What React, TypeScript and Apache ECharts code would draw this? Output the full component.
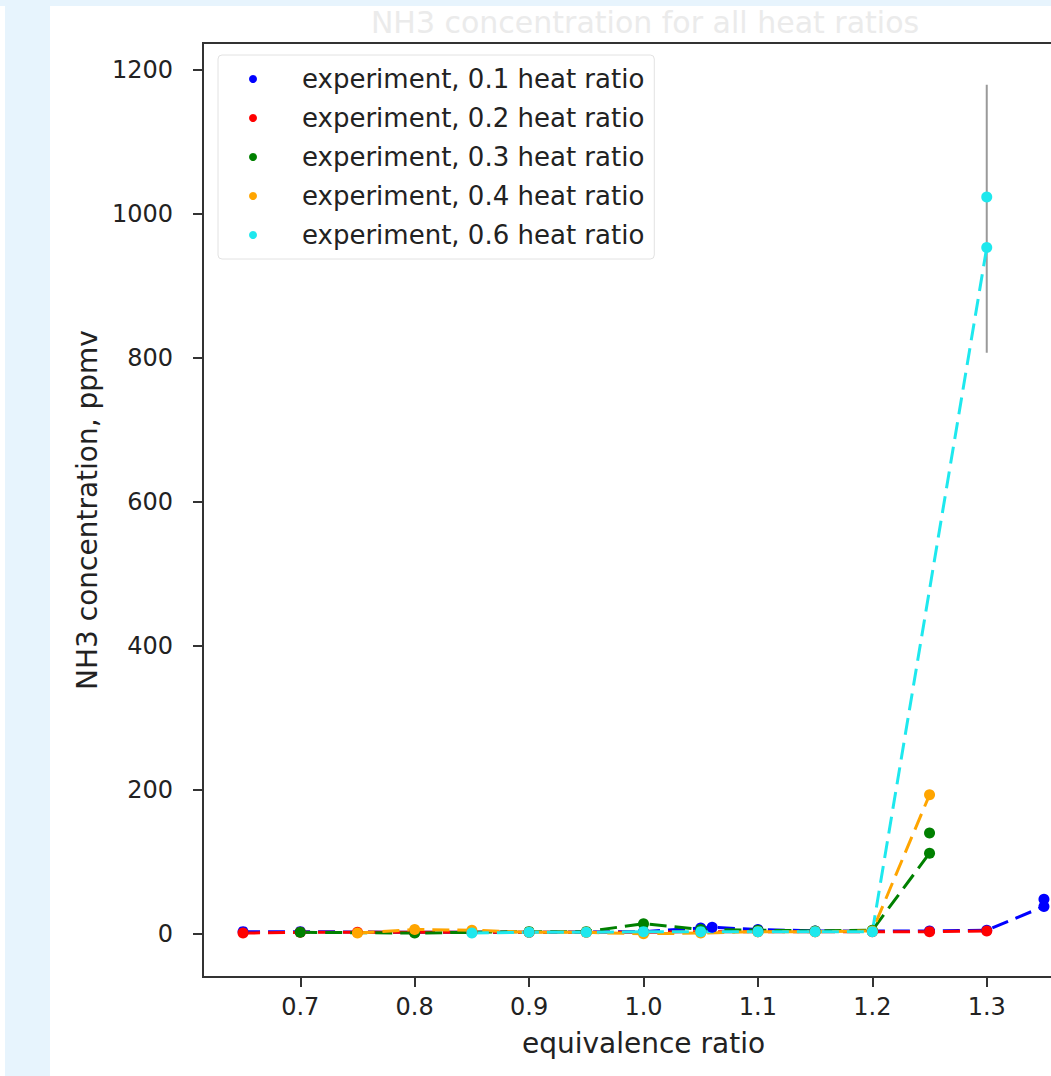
import React, { useEffect, useRef } from "react";
import * as echarts from "echarts";

const chartTitle = "NH3 concentration for all heat ratios";
const xAxisName = "equivalence ratio";
const yAxisName = "NH3 concentration, ppmv";
const xTicks = [0.7, 0.8, 0.9, 1.0, 1.1, 1.2, 1.3];
const yTicks = [0, 200, 400, 600, 800, 1000, 1200];

const seriesNames = [
  "experiment, 0.1 heat ratio",
  "experiment, 0.2 heat ratio",
  "experiment, 0.3 heat ratio",
  "experiment, 0.4 heat ratio",
  "experiment, 0.6 heat ratio",
];
const seriesColors = ["#0000ff", "#ff0000", "#008000", "#ffa500", "#1ee8ee"];

// [equivalence ratio, ppmv]
const heat01: number[][] = [
  [0.65, 3], [0.7, 3], [0.8, 2], [0.9, 2], [1.0, 3], [1.05, 8], [1.06, 9],
  [1.1, 6], [1.15, 4], [1.2, 4], [1.25, 4], [1.3, 5], [1.35, 38],
];
const heat01Extra: number[][] = [[1.35, 48]];

const heat02: number[][] = [
  [0.65, 1], [0.7, 2], [0.75, 2], [0.8, 2], [0.85, 2], [0.9, 2], [0.95, 2],
  [1.0, 2], [1.05, 3], [1.1, 3], [1.15, 3], [1.2, 3], [1.25, 3], [1.3, 4],
];

const heat03: number[][] = [
  [0.7, 2], [0.8, 1], [0.9, 3], [0.95, 3], [1.0, 14], [1.05, 6], [1.1, 5],
  [1.15, 4], [1.2, 5], [1.25, 112],
];
const heat03Extra: number[][] = [[1.25, 140]];

const heat04: number[][] = [
  [0.75, 1], [0.8, 6], [0.85, 5], [0.9, 2], [0.95, 2], [1.0, 0], [1.05, 1],
  [1.1, 3], [1.15, 3], [1.2, 4], [1.25, 193],
];

const heat06: number[][] = [
  [0.85, 1], [0.9, 2], [0.95, 2], [1.0, 3], [1.05, 3], [1.1, 3], [1.15, 3],
  [1.2, 3], [1.3, 953],
];
const heat06Extra: number[][] = [[1.3, 1023]];

// error bar: [x, low, high]
const heat06ErrorBar = [1.3, 807, 1179];

const FONT = "DejaVu Sans";
const TEXT = "#222222";
const FRAME = "#333333";

export default function App() {
  const ref = useRef<HTMLDivElement>(null);

  useEffect(() => {
    document.body.style.margin = "0";
    document.body.style.overflow = "hidden";
    if (!ref.current) return;
    const chart = echarts.init(ref.current, undefined, { renderer: "svg" });

    const lineSeries = (name: string, color: string, data: number[][]) => ({
      type: "line",
      name,
      data,
      symbol: "circle",
      symbolSize: 11,
      showSymbol: true,
      itemStyle: { color },
      lineStyle: { color, width: 3, type: [17, 8] },
      silent: true,
    });
    const extraSeries = (name: string, color: string, data: number[][]) => ({
      type: "scatter",
      name,
      data,
      symbol: "circle",
      symbolSize: 11,
      itemStyle: { color, opacity: 1 },
      silent: true,
      z: 3,
    });

    const option: any = {
      animation: false,
      textStyle: { fontFamily: FONT },
      graphic: [
        {
          type: "text",
          x: 645,
          y: 22,
          silent: true,
          style: {
            text: chartTitle,
            fill: "#ebebeb",
            fontSize: 30,
            fontFamily: FONT,
            align: "center",
            verticalAlign: "middle",
          },
        },
      ],
      grid: {
        left: 203,
        top: 43,
        right: 16,
        bottom: 99,
        show: true,
        borderColor: FRAME,
        borderWidth: 2,
        backgroundColor: "transparent",
      },
      legend: {
        data: seriesNames,
        orient: "vertical",
        left: 218,
        top: 55,
        padding: [9, 10, 9, 31],
        itemWidth: 8,
        itemHeight: 8,
        itemGap: 9,
        icon: "circle",
        selectedMode: false,
        backgroundColor: "rgba(255,255,255,0.85)",
        borderColor: "#e2e2e2",
        borderWidth: 1,
        borderRadius: 4,
        textStyle: {
          fontSize: 26,
          lineHeight: 30,
          color: TEXT,
          fontFamily: FONT,
          padding: [0, 0, 0, 40],
        },
      },
      xAxis: {
        type: "value",
        min: 0.615,
        max: 1.385,
        name: xAxisName,
        nameLocation: "middle",
        nameGap: 52,
        nameTextStyle: { fontSize: 28, color: TEXT, fontFamily: FONT },
        axisLine: { show: true, onZero: false, lineStyle: { color: FRAME, width: 2 } },
        axisTick: {
          show: true,
          inside: false,
          length: 10,
          customValues: xTicks,
          lineStyle: { color: FRAME, width: 2 },
        },
        axisLabel: {
          customValues: xTicks,
          formatter: (v: number) => v.toFixed(1),
          fontSize: 24,
          color: TEXT,
          fontFamily: FONT,
          margin: 18,
        },
        splitLine: { show: false },
      },
      yAxis: {
        type: "value",
        min: -60,
        max: 1237,
        name: yAxisName,
        nameLocation: "middle",
        nameGap: 77,
        nameTextStyle: { fontSize: 28, color: TEXT, fontFamily: FONT },
        axisLine: { show: true, onZero: false, lineStyle: { color: FRAME, width: 2 } },
        axisTick: {
          show: true,
          inside: false,
          length: 10,
          customValues: yTicks,
          lineStyle: { color: FRAME, width: 2 },
        },
        axisLabel: {
          customValues: yTicks,
          formatter: (v: number) => String(Math.round(v)),
          fontSize: 24,
          color: TEXT,
          fontFamily: FONT,
          margin: 30,
        },
        splitLine: { show: false },
      },
      series: [
        {
          type: "line",
          name: "error bar",
          data: [
            [heat06ErrorBar[0], heat06ErrorBar[1]],
            [heat06ErrorBar[0], heat06ErrorBar[2]],
          ],
          symbol: "none",
          lineStyle: { color: "#9a9a9a", width: 2 },
          silent: true,
        },
        lineSeries(seriesNames[0], seriesColors[0], heat01),
        lineSeries(seriesNames[1], seriesColors[1], heat02),
        lineSeries(seriesNames[2], seriesColors[2], heat03),
        lineSeries(seriesNames[3], seriesColors[3], heat04),
        lineSeries(seriesNames[4], seriesColors[4], heat06),
        extraSeries(seriesNames[0], seriesColors[0], heat01Extra),
        extraSeries(seriesNames[2], seriesColors[2], heat03Extra),
        extraSeries(seriesNames[4], seriesColors[4], heat06Extra),
      ],
    };

    chart.setOption(option);
    return () => chart.dispose();
  }, []);

  return (
    <div
      style={{
        position: "relative",
        width: 1051,
        height: 1076,
        overflow: "hidden",
        background: "#ffffff",
      }}
    >
      <div style={{ position: "absolute", left: 0, top: 0, width: 1051, height: 6, background: "#e7f4fd" }} />
      <div style={{ position: "absolute", left: 5, top: 0, width: 45, height: 1076, background: "#e7f4fd" }} />
      <div
        style={{
          position: "absolute",
          left: 50,
          top: 6,
          width: 1001,
          height: 1070,
          overflow: "hidden",
          background: "#ffffff",
        }}
      >
        <div
          ref={ref}
          style={{ position: "absolute", left: -50, top: -6, width: 1100, height: 1076 }}
        />
      </div>
    </div>
  );
}
